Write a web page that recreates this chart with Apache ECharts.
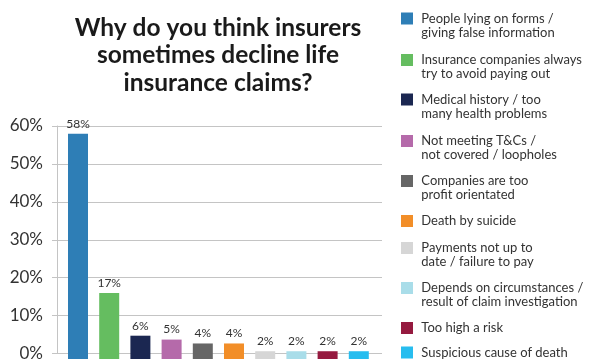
<!DOCTYPE html>
<html><head><meta charset="utf-8">
<script src="https://cdn.jsdelivr.net/npm/echarts@6/dist/echarts.min.js"></script>
<style>html,body{margin:0;padding:0;background:#fff}#c{width:601px;height:362px}</style>
</head><body><div id="c"></div>
<script>
const categories = [
  "People lying on forms /\ngiving false information",
  "Insurance companies always\ntry to avoid paying out",
  "Medical history / too\nmany health problems",
  "Not meeting T&Cs /\nnot covered / loopholes",
  "Companies are too\nprofit orientated",
  "Death by suicide",
  "Payments not up to\ndate / failure to pay",
  "Depends on circumstances /\nresult of claim investigation",
  "Too high a risk",
  "Suspicious cause of death"
];
const values = [58, 17, 6, 5, 4, 4, 2, 2, 2, 2];
const colors = ["#2e7eb6", "#65bd60", "#1b2751", "#b56aaa", "#666666", "#f28e28", "#d6d6d6", "#a9dde9", "#951a3f", "#27bdef"];
const yTicks = [0, 10, 20, 30, 40, 50, 60];
const titleText = "Why do you think insurers\nsometimes decline life\ninsurance claims?";

const FONT = "Lato, 'Open Sans', sans-serif";
const legendCenters = [18.5, 60, 99.5, 141, 181, 221, 248, 288, 328, 352.5];
const LH = 14;

const series = categories.map((name, i) => ({
  name: name,
  type: 'bar',
  xAxisIndex: 1, yAxisIndex: 1,
  barWidth: 20,
  barGap: '-100%',
  itemStyle: { color: colors[i] },
  label: { show: true, position: 'top', distance: 4, formatter: '{c}%', fontFamily: FONT, fontSize: 12, color: '#333' },
  data: categories.map((c, j) => j === i ? values[i] : '-')
}));

const legends = categories.map((name, i) => {
  const lines = name.split('\n').length;
  const total = 2 * lines - 1;
  return {
    orient: 'vertical', left: 401, top: legendCenters[i] - LH * total / 2, padding: 0,
    itemWidth: 12, itemHeight: 12, icon: 'rect',
    data: [name],
    selectedMode: false,
    formatter: n => '\n'.repeat(lines - 1) + n.split('\n').map(s => ' ' + s).join('\n'),
    textStyle: { fontFamily: FONT, fontSize: 13, lineHeight: LH, color: '#333' }
  };
});

const chart = echarts.init(document.getElementById('c'), null, { renderer: 'canvas' });
chart.setOption({
  animation: false,
  title: { text: titleText, left: 213, top: 9, textAlign: 'center',
    textStyle: { fontFamily: FONT, fontWeight: 'bold', fontSize: 24.5, lineHeight: 27.5, color: '#1a1a1a' } },
  legend: legends,
  grid: [
    { left: 57, right: 219, top: 126, bottom: 3 },
    { left: 62.4, width: 312, top: 126, bottom: 3 }
  ],
  xAxis: [
    { type: 'category', gridIndex: 0, data: categories, show: true, axisLine: { show: false }, axisTick: { show: false }, axisLabel: { show: false } },
    { type: 'category', gridIndex: 1, data: categories, show: false }
  ],
  yAxis: [
    { type: 'value', gridIndex: 0, min: yTicks[0], max: yTicks[yTicks.length - 1], interval: 10,
      axisLine: { show: true, lineStyle: { color: '#c4c4c4', width: 1 } },
      axisTick: { show: true, length: 5, lineStyle: { color: '#c4c4c4' } },
      splitLine: { show: true, lineStyle: { color: '#c4c4c4', width: 1 } },
      axisLabel: { formatter: '{value}%', fontFamily: FONT, fontSize: 17, color: '#333', margin: 14 } },
    { type: 'value', gridIndex: 1, min: yTicks[0], max: yTicks[yTicks.length - 1], show: false, splitLine: { show: false } }
  ],
  series: series
});
</script></body></html>
